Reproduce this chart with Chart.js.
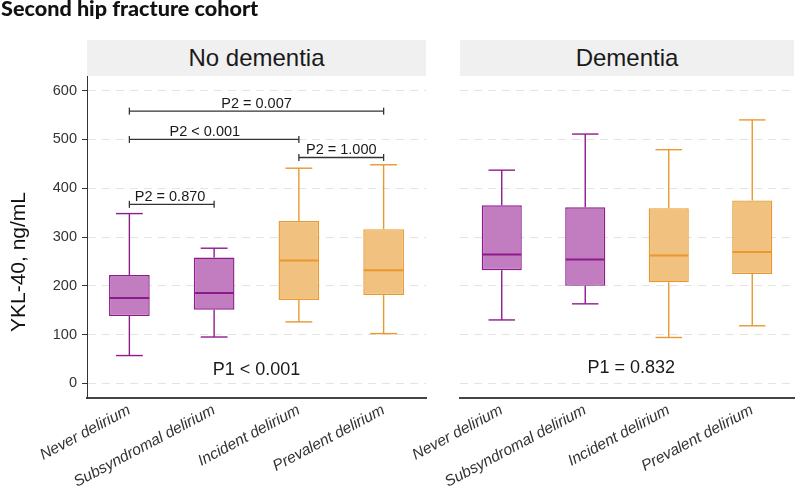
<!DOCTYPE html>
<html><head><meta charset="utf-8">
<script src="https://cdn.jsdelivr.net/npm/chart.js@4.4.1/dist/chart.umd.min.js"></script>
<style>
html,body{margin:0;padding:0;background:#fff;}
#wrap{position:relative;width:800px;height:487px;overflow:hidden;font-family:'Liberation Sans',Arial,sans-serif;background:#fff;}
canvas{position:absolute;left:0;top:0;}
#title{position:absolute;left:1px;top:-5px;font-family:Lato,sans-serif;font-weight:900;font-size:21.6px;color:#111;white-space:nowrap;}
.strip{position:absolute;top:40px;height:36px;background:#F0F0F0;color:#1a1a1a;font-size:24px;line-height:36px;text-align:center;}
#ytitle{position:absolute;left:-82px;top:250px;width:200px;height:24px;line-height:24px;text-align:center;font-size:21px;color:#111;transform:rotate(-90deg);transform-origin:50% 50%;white-space:nowrap;}
</style></head>
<body>
<div id="wrap">
  <canvas id="c1" width="800" height="487"></canvas>
  <canvas id="c2" width="800" height="487"></canvas>
  <div id="title">Second hip fracture cohort</div>
  <div class="strip" style="left:87px;width:339px;">No dementia</div>
  <div class="strip" style="left:460px;width:334px;">Dementia</div>
  <div id="ytitle">YKL-40, ng/mL</div>
</div>
<script>
// ---- data ----
const categories = ['Never delirium', 'Subsyndromal delirium', 'Incident delirium', 'Prevalent delirium'];
const yTicks = [0, 100, 200, 300, 400, 500, 600];

// No dementia panel
const noDemMin    = [57, 95, 126, 102];
const noDemQ1     = [138, 151, 171, 181];
const noDemMedian = [175, 185, 252, 232];
const noDemQ3     = [222, 258, 333, 316];
const noDemMax    = [348, 277, 441, 448];

// Dementia panel
const demMin    = [130, 163, 94, 118];
const demQ1     = [232, 200, 207, 224];
const demMedian = [264, 254, 262, 269];
const demQ3     = [365, 361, 359, 375];
const demMax    = [437, 511, 479, 540];

// pairwise comparisons (No dementia panel)
const bracketFrom   = [0, 0, 2, 0];
const bracketTo     = [3, 2, 3, 1];
const bracketY      = [558, 500, 463, 367];
const bracketLabelX = [1.5, 0.89, 2.5, 0.48];
const bracketLabels = ['P2 = 0.007', 'P2 < 0.001', 'P2 = 1.000', 'P2 = 0.870'];

// overall tests
const p1Labels = ['P1 < 0.001', 'P1 = 0.832'];
const p1X = [1.5, 1.55];
const p1Y = [28, 31];

// ---- styles ----
const fillCols   = ['#C27DC1', '#C27DC1', '#F1C17F', '#F1C17F'];
const strokeCols = ['#8E1B8E', '#8E1B8E', '#E8982F', '#E8982F'];
const FONT = "'Liberation Sans', Arial, sans-serif";

function makePlugin(stats, ann) {
  return {
    id: 'boxExtras',
    afterDatasetsDraw(chart) {
      const ctx = chart.ctx;
      const y = chart.scales.y, x = chart.scales.x;
      const meta = chart.getDatasetMeta(0);
      const line = (x1, y1, x2, y2) => { ctx.beginPath(); ctx.moveTo(x1, y1); ctx.lineTo(x2, y2); ctx.stroke(); };
      meta.data.forEach((bar, i) => {
        const cx = bar.x, w = bar.width;
        ctx.save();
        ctx.strokeStyle = strokeCols[i];
        ctx.lineWidth = 1.4;
        const pMax = y.getPixelForValue(stats.max[i]);
        const pQ3 = y.getPixelForValue(stats.q3[i]);
        const pQ1 = y.getPixelForValue(stats.q1[i]);
        const pMin = y.getPixelForValue(stats.min[i]);
        const pMed = y.getPixelForValue(stats.med[i]);
        line(cx, pQ3, cx, pMax);
        line(cx, pQ1, cx, pMin);
        const cw = w * 0.33;
        line(cx - cw, pMax, cx + cw, pMax);
        line(cx - cw, pMin, cx + cw, pMin);
        ctx.lineWidth = 2;
        line(cx - w / 2 + 0.5, pMed, cx + w / 2 - 0.5, pMed);
        ctx.restore();
      });
      ctx.save();
      ctx.strokeStyle = '#333';
      ctx.fillStyle = '#1a1a1a';
      ctx.lineWidth = 1.3;
      ctx.font = '14.5px ' + FONT;
      ctx.textAlign = 'center';
      ctx.textBaseline = 'alphabetic';
      (ann.brackets || []).forEach(b => {
        const x1 = x.getPixelForValue(b.from), x2 = x.getPixelForValue(b.to);
        const yy = y.getPixelForValue(b.y);
        line(x1, yy, x2, yy);
        line(x1, yy - 3.5, x1, yy + 3.5);
        line(x2, yy - 3.5, x2, yy + 3.5);
        ctx.fillText(b.label, x.getPixelForValue(b.lx), yy - 3.5);
      });
      ctx.font = '18px ' + FONT;
      ctx.textBaseline = 'middle';
      ctx.fillText(ann.p1.label, x.getPixelForValue(ann.p1.x), y.getPixelForValue(ann.p1.y));
      ctx.restore();
    }
  };
}

function makeChart(id, stats, ann, isLeft) {
  const padLeft = isLeft ? 0 : 460;
  const right = isLeft ? 426 : 794;
  return new Chart(document.getElementById(id), {
    type: 'bar',
    data: {
      labels: categories,
      datasets: [{
        data: stats.q1.map((v, i) => [v, stats.q3[i]]),
        backgroundColor: fillCols,
        borderColor: strokeCols,
        borderWidth: 1.4,
        borderSkipped: false,
        barPercentage: 0.48,
        categoryPercentage: 1
      }]
    },
    options: {
      responsive: false,
      animation: false,
      events: [],
      layout: { padding: { left: padLeft, right: 800 - right, top: 76, bottom: 0 } },
      plugins: { legend: { display: false }, tooltip: { enabled: false } },
      scales: {
        x: {
          offset: true,
          grid: { display: false, drawTicks: false },
          border: { display: true, color: '#444', width: 2 },
          ticks: {
            minRotation: 28, maxRotation: 28, padding: 3, autoSkip: false,
            color: '#333', font: { family: FONT, size: 15.5, style: 'italic' }
          },
          afterFit: s => { s.height = 89; }
        },
        y: {
          min: -30, max: 630,
          afterBuildTicks: s => { s.ticks = yTicks.map(v => ({ value: v })); },
          grid: {
            color: '#E4E4E4', lineWidth: 1, drawTicks: isLeft, tickLength: 5,
            tickColor: '#333', tickWidth: 1
          },
          border: { display: isLeft, color: '#333', width: 1, dash: [8, 6] },
          ticks: {
            display: isLeft, padding: 5, color: '#333',
            font: { family: FONT, size: 14.5 }
          },
          afterFit: s => { s.width = isLeft ? 87 : 0; }
        }
      }
    },
    plugins: [makePlugin(stats, ann)]
  });
}

function build() {
  makeChart('c1',
    { min: noDemMin, q1: noDemQ1, med: noDemMedian, q3: noDemQ3, max: noDemMax },
    {
      brackets: bracketLabels.map((l, i) => ({ from: bracketFrom[i], to: bracketTo[i], y: bracketY[i], lx: bracketLabelX[i], label: l })),
      p1: { label: p1Labels[0], x: p1X[0], y: p1Y[0] }
    }, true);
  makeChart('c2',
    { min: demMin, q1: demQ1, med: demMedian, q3: demQ3, max: demMax },
    { brackets: [], p1: { label: p1Labels[1], x: p1X[1], y: p1Y[1] } }, false);
}
Promise.all([
  document.fonts.load("14px 'Liberation Sans'"),
  document.fonts.load("italic 14px 'Liberation Sans'")
]).then(build, build);
</script>
</body></html>
